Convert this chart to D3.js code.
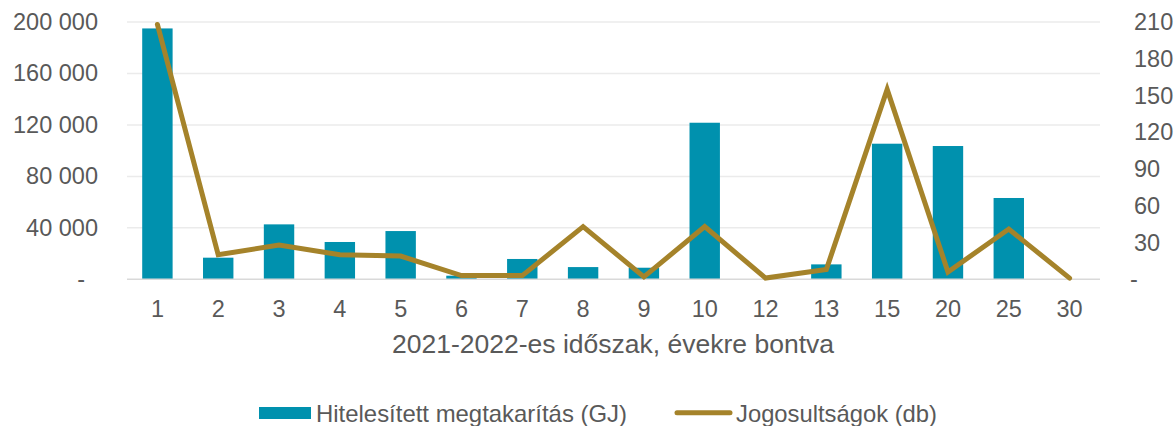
<!DOCTYPE html>
<html><head><meta charset="utf-8">
<script src="https://cdn.jsdelivr.net/npm/d3@7"></script>
<style>
html,body{margin:0;padding:0;background:#fff;}
text{font-family:"Liberation Sans",Arial,sans-serif;fill:#595959;}
</style></head>
<body>
<svg id="chart" width="1176" height="426"></svg>
<script>
const categories = ["1","2","3","4","5","6","7","8","9","10","12","13","15","20","25","30"];
const savings = [195000,16800,42700,29000,37500,2800,15800,9500,9000,121700,0,11600,105400,103600,63200,0];
const rights = [208,20,28,20,19,3,3,43,2,43,1,8,155,6,41,1];
const leftTicks = [0,40000,80000,120000,160000,200000];
const rightTicks = [0,30,60,90,120,150,180,210];
const seriesNames = ["Hitelesített megtakarítás (GJ)","Jogosultságok (db)"];
const xTitle = "2021-2022-es időszak, évekre bontva";

const barColor = "#0091AE", lineColor = "#A5832A";
const svg = d3.select("#chart");
const m = {left:127, right:1100, top:22, bottom:279.3};

const x = d3.scaleBand().domain(categories).range([m.left, m.right]).paddingInner(0.5).paddingOuter(0.25);
const yL = d3.scaleLinear().domain([0,200000]).range([m.bottom, m.top]);
const yR = d3.scaleLinear().domain([0,210]).range([m.bottom, m.top]);

const loc = d3.formatLocale({decimal:",", thousands:" ", grouping:[3], currency:["",""]});
const fmt = loc.format(",");

// gridlines
svg.append("g").selectAll("line").data(leftTicks.filter(d=>d>0)).join("line")
  .attr("x1", m.left).attr("x2", m.right)
  .attr("y1", d=>yL(d)).attr("y2", d=>yL(d))
  .attr("stroke", "#EBEBEB").attr("stroke-width", 1.5);

// bars
svg.append("g").selectAll("rect").data(categories).join("rect")
  .attr("x", d=>x(d)).attr("width", x.bandwidth())
  .attr("y", (d,i)=>yL(savings[i])).attr("height", (d,i)=>yL(0)-yL(savings[i]))
  .attr("fill", barColor);

// baseline
svg.append("line").attr("x1", m.left).attr("x2", m.right)
  .attr("y1", yL(0)).attr("y2", yL(0)).attr("stroke", "#D9D9D9").attr("stroke-width", 1.5);

// line
const line = d3.line().x((d,i)=>x(categories[i]) + x.bandwidth()/2).y(d=>yR(d));
svg.append("path").datum(rights).attr("d", line)
  .attr("fill","none").attr("stroke", lineColor).attr("stroke-width", 5)
  .attr("stroke-linecap","round").attr("stroke-linejoin","miter");

// left axis
const axL = d3.axisLeft(yL).tickValues(leftTicks).tickSize(0).tickPadding(0)
  .tickFormat(d=> d===0 ? "-" : fmt(d));
const gL = svg.append("g").attr("transform", `translate(98,0)`).call(axL);
gL.select(".domain").remove();
gL.selectAll("text").style("font-size","23.5px").attr("fill","#595959")
  .attr("dx", d=> d===0 ? -13 : 0);

// right axis
const axR = d3.axisRight(yR).tickValues(rightTicks).tickSize(0).tickPadding(0)
  .tickFormat(d=> d===0 ? "-" : d);
const gR = svg.append("g").attr("transform", `translate(1134,0)`).call(axR);
gR.select(".domain").remove();
gR.selectAll("text").style("font-size","23.5px").attr("fill","#595959")
  .attr("dx", d=> d===0 ? -4 : 0);

// x axis
const axX = d3.axisBottom(x).tickSize(0).tickPadding(0);
const gX = svg.append("g").attr("transform", `translate(0,300)`).call(axX);
gX.select(".domain").remove();
gX.selectAll("text").style("font-size","23.5px").attr("fill","#595959").attr("dy","0.71em");

// x title
svg.append("text").attr("x", (m.left+m.right)/2 - 0.5).attr("y", 353)
  .attr("text-anchor","middle").style("font-size","25px")
  .attr("textLength", 442).attr("lengthAdjust","spacingAndGlyphs").text(xTitle);

// legend
const lg = svg.append("g");
lg.append("rect").attr("x",259).attr("y",407).attr("width",52).attr("height",12).attr("fill",barColor);
lg.append("text").attr("x",316).attr("y",421.5).style("font-size","24px")
  .attr("textLength", 311).attr("lengthAdjust","spacingAndGlyphs").text(seriesNames[0]);
lg.append("line").attr("x1",677).attr("x2",730).attr("y1",412.7).attr("y2",412.7)
  .attr("stroke",lineColor).attr("stroke-width",5).attr("stroke-linecap","round");
lg.append("text").attr("x",736).attr("y",421.5).style("font-size","24px")
  .attr("textLength", 201).attr("lengthAdjust","spacingAndGlyphs").text(seriesNames[1]);
</script>
</body></html>
